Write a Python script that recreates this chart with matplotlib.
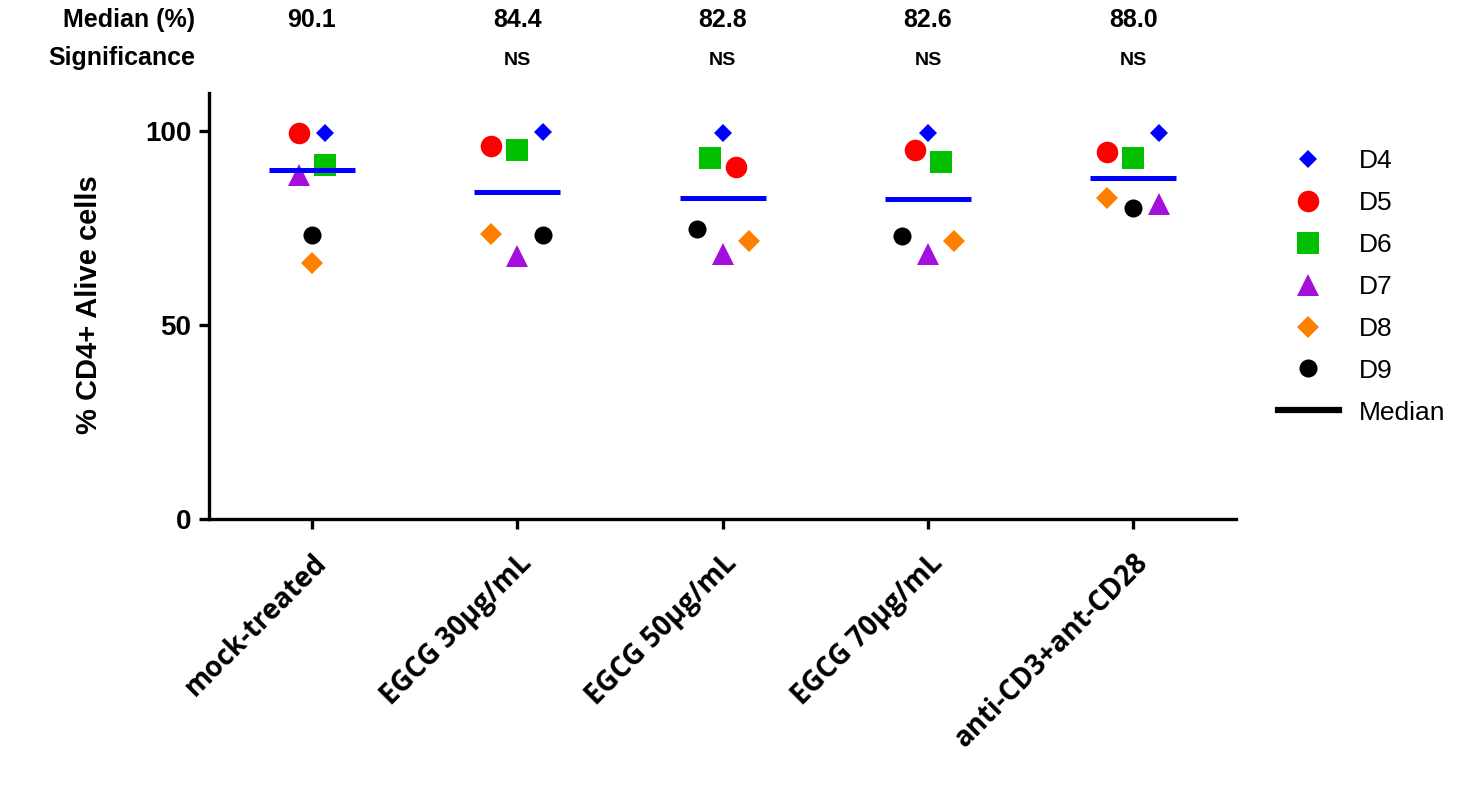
import numpy as np
import matplotlib
matplotlib.use("Agg")
import matplotlib.pyplot as plt
from matplotlib.lines import Line2D

# groups on the x axis
groups = ["mock-treated", "EGCG 30µg/mL", "EGCG 50µg/mL", "EGCG 70µg/mL", "anti-CD3+ant-CD28"]
significance = ["", "NS", "NS", "NS", "NS"]

# % CD4+ alive cells per donor, one value per group
d4 = [99.6, 99.8, 99.6, 99.6, 99.5]
d5 = [99.7, 96.2, 90.8, 95.1, 94.8]
d6 = [91.4, 95.3, 93.1, 92.2, 93.1]
d7 = [88.8, 68.0, 68.4, 68.4, 81.2]
d8 = [66.1, 73.5, 71.8, 71.8, 82.9]
d9 = [73.4, 73.2, 74.8, 73.0, 80.3]

# horizontal scatter slot of each donor point (Prism style spreading)
slot_d4 = [1, 2, 0, 0, 2]
slot_d5 = [-1, -2, 1, -1, -2]
slot_d6 = [1, 0, -1, 1, 0]
slot_d7 = [-1, 0, 0, 0, 2]
slot_d8 = [0, -2, 2, 2, -2]
slot_d9 = [0, 2, -2, -2, 0]

donors = [
    ("D4", d4, slot_d4, "D", "#0000FF", 9.5),
    ("D5", d5, slot_d5, "o", "#FF0000", 15.5),
    ("D6", d6, slot_d6, "s", "#00C000", 15.5),
    ("D7", d7, slot_d7, "^", "#A40FDC", 16.5),
    ("D8", d8, slot_d8, "D", "#FF8000", 11.5),
    ("D9", d9, slot_d9, "o", "#000000", 13),
]

fig = plt.figure(figsize=(14.73, 8.07), dpi=100)
ax = fig.add_axes([0.1421, 0.3565, 0.697, 0.5287])

x = np.arange(len(groups))
step = 0.0635

for name, vals, slots, mk, col, ms in donors:
    xs = x + np.array(slots) * step
    ax.plot(xs, vals, linestyle="none", marker=mk, color=col, markersize=ms,
            markeredgewidth=0, label=name, clip_on=False, zorder=3)

all_vals = np.array([d4, d5, d6, d7, d8, d9])
medians = np.median(all_vals, axis=0)
ax.hlines(medians, x - 0.21, x + 0.21, color="#0000FF", linewidth=3.6, zorder=4)

ax.set_xlim(-0.5, 4.5)
ax.set_ylim(0, 110)
ax.set_yticks([0, 50, 100])
ax.set_xticks(x)

for side in ["top", "right"]:
    ax.spines[side].set_visible(False)
for side in ["left", "bottom"]:
    ax.spines[side].set_linewidth(2.4)

ax.tick_params(axis="both", direction="out", length=7, width=2.4)
ax.tick_params(axis="y", pad=6)
ax.tick_params(axis="x", pad=14)

ax.set_yticklabels(["0", "50", "100"], fontsize=20, fontweight="bold",
                   fontfamily="Liberation Sans")
ax.set_xticklabels(groups, rotation=45, ha="right", rotation_mode="anchor",
                   fontsize=20, fontweight="bold", fontfamily="Open Sans")

ax.set_ylabel("% CD4+ Alive cells", fontsize=21, fontweight="bold",
              fontfamily="Liberation Sans")
ax.yaxis.set_label_coords(-0.104, 0.503)

# median values and significance above each group
tr = ax.get_xaxis_transform()
fig.text(195 / 1473, 1 - 20 / 807, "Median (%)", ha="right", va="center",
         fontsize=18, fontweight="bold", fontfamily="Liberation Sans")
fig.text(195 / 1473, 1 - 58 / 807, "Significance", ha="right", va="center",
         fontsize=18, fontweight="bold", fontfamily="Liberation Sans")
for i in range(len(groups)):
    ax.text(x[i], 1.171, f"{medians[i]:.1f}", transform=tr, ha="center", va="center",
            fontsize=18, fontweight="bold", fontfamily="Liberation Sans", clip_on=False)
    ax.text(x[i], 1.075, significance[i], transform=tr, ha="center", va="center",
            fontsize=14, fontweight="bold", fontfamily="Liberation Sans", clip_on=False)

handles, labels = ax.get_legend_handles_labels()
handles.append(Line2D([0], [0], color="black", linewidth=4.5))
labels.append("Median")
leg = fig.legend(handles, labels, loc="upper left",
                 bbox_to_anchor=(1278 / 1473, 1 - 149 / 807),
                 frameon=False, borderpad=0, borderaxespad=0,
                 handlelength=2.3, handletextpad=0.75, labelspacing=0.68,
                 prop={"family": "Liberation Sans", "size": 19})

fig.savefig("out.png", dpi=100)
